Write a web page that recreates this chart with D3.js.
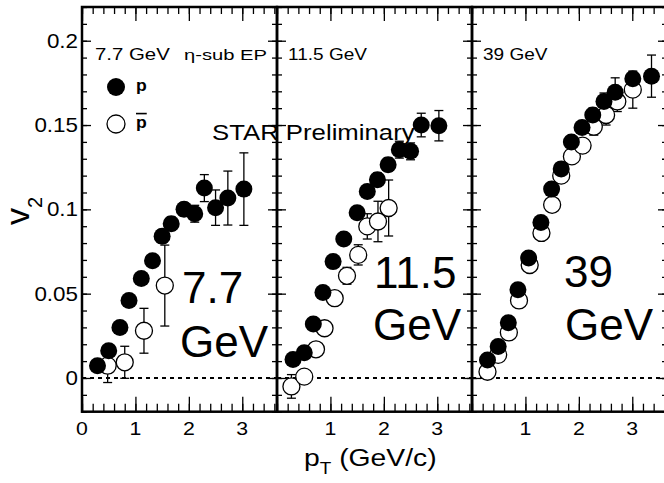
<!DOCTYPE html>
<html>
<head>
<meta charset="utf-8">
<script src="https://cdn.jsdelivr.net/npm/d3@7"></script>
<style>
body { margin: 0; background: #fff; }
svg { display: block; font-family: "Liberation Sans", Arial, sans-serif; }
</style>
</head>
<body>
<script>
// beam energies (GeV), one panel each
var energies = ["7.7", "11.5", "39"];
var topLabels = ["7.7 GeV", "11.5 GeV", "39 GeV"];

// 7.7 GeV
var pt77_p = [0.29, 0.50, 0.71, 0.88, 1.11, 1.32, 1.50, 1.67, 1.91, 2.11, 2.29, 2.50, 2.73, 3.03];
var v277_p = [0.0073, 0.0162, 0.030, 0.046, 0.059, 0.0695, 0.084, 0.0915, 0.100, 0.0974, 0.1126, 0.101, 0.1067, 0.112];
var err77_p = [0.003, 0.003, 0.003, 0.003, 0.003, 0.003, 0.004, 0.004, 0.004, 0.005, 0.008, 0.0105, 0.016, 0.0215];
var pt77_pbar = [0.48, 0.80, 1.16, 1.55];
var v277_pbar = [0.0073, 0.0093, 0.028, 0.0548];
var err77_pbar = [0.010, 0.0095, 0.0133, 0.024];

// 11.5 GeV
var pt115_p = [0.30, 0.51, 0.68, 0.86, 1.05, 1.25, 1.50, 1.69, 1.88, 2.08, 2.29, 2.50, 2.70, 3.03];
var v2115_p = [0.011, 0.015, 0.032, 0.0507, 0.069, 0.0824, 0.098, 0.1106, 0.1176, 0.1265, 0.1354, 0.1344, 0.150, 0.1496];
var err115_p = [0.002, 0.002, 0.002, 0.002, 0.003, 0.003, 0.003, 0.003, 0.004, 0.004, 0.005, 0.005, 0.007, 0.009];
var pt115_pbar = [0.27, 0.51, 0.73, 0.89, 1.08, 1.31, 1.52, 1.69, 1.89, 2.09];
var v2115_pbar = [-0.005, 0.0008, 0.017, 0.0295, 0.0473, 0.0606, 0.073, 0.0899, 0.0928, 0.1008];
var err115_pbar = [0.007, 0.004, 0.004, 0.004, 0.004, 0.005, 0.006, 0.0075, 0.012, 0.0166];

// 39 GeV
var pt39_p = [0.29, 0.49, 0.68, 0.86, 1.06, 1.29, 1.49, 1.67, 1.86, 2.06, 2.26, 2.47, 2.68, 3.01, 3.36];
var v239_p = [0.0107, 0.0186, 0.0328, 0.0523, 0.0711, 0.0922, 0.112, 0.124, 0.140, 0.1485, 0.156, 0.164, 0.1695, 0.1774, 0.179];
var err39_p = [0.001, 0.001, 0.001, 0.001, 0.002, 0.002, 0.002, 0.002, 0.003, 0.003, 0.004, 0.005, 0.0085, 0.004, 0.0125];
var pt39_pbar = [0.29, 0.49, 0.69, 0.88, 1.08, 1.30, 1.50, 1.67, 1.87, 2.07, 2.28, 2.51, 2.72, 3.01];
var v239_pbar = [0.0037, 0.0137, 0.027, 0.046, 0.067, 0.086, 0.1027, 0.120, 0.1314, 0.1378, 0.149, 0.156, 0.164, 0.171];
var err39_pbar = [0.001, 0.001, 0.001, 0.002, 0.002, 0.002, 0.003, 0.003, 0.004, 0.004, 0.005, 0.006, 0.006, 0.011];

// ticks
var xMajor = [0, 1, 2, 3];
var xMinor = d3.range(0, 3.61, 0.2);
var yMajor = [0, 0.05, 0.1, 0.15, 0.2];
var yMinor = d3.range(-0.02, 0.2201, 0.01);
var yTickLabels = ["0", "0.05", "0.1", "0.15", "0.2"];

function zip(pt, v, e) {
	return pt.map(function(d, i) { return { x: d, y: v[i], e: e[i] }; });
}

var panels = [
	{ p: zip(pt77_p, v277_p, err77_p), pbar: zip(pt77_pbar, v277_pbar, err77_pbar) },
	{ p: zip(pt115_p, v2115_p, err115_p), pbar: zip(pt115_pbar, v2115_pbar, err115_pbar) },
	{ p: zip(pt39_p, v239_p, err39_p), pbar: zip(pt39_pbar, v239_pbar, err39_pbar) }
];

var W = 664, H = 483;
var left0 = 82, panelW = 195;
var yTop = 7, yBot = 411.7;
var r = 8.5;

var svg = d3.select("body").append("svg")
	.attr("width", W)
	.attr("height", H);

var y = d3.scaleLinear().domain([-0.02, 0.22]).range([yBot, yTop]);

// text stretched sideways like the original bitmap
function label(parent, x, yy, str, size, anchor, k) {
	var g = parent.append("g").attr("transform", "translate(" + x + "," + yy + ") scale(" + k + ",1)");
	return g.append("text")
		.attr("font-size", size)
		.attr("text-anchor", anchor)
		.text(str);
}

function styleTicks(g) {
	g.select(".domain").remove();
	g.selectAll("line").attr("stroke", "#000").attr("stroke-width", 1.3);
}

panels.forEach(function(panel, i) {
	var x0 = left0 + i * panelW;
	var x = d3.scaleLinear().domain([0, 3.65]).range([x0, x0 + panelW]);
	var g = svg.append("g");

	// zero line
	g.append("line")
		.attr("x1", x(0)).attr("x2", x(3.65))
		.attr("y1", y(0)).attr("y2", y(0))
		.attr("stroke", "#000")
		.attr("stroke-width", 2)
		.attr("stroke-dasharray", "4,4");

	// ticks, all pointing inward
	g.append("g").attr("transform", "translate(0," + yBot + ")")
		.call(d3.axisBottom(x).tickValues(xMinor).tickSize(-8).tickFormat("")).call(styleTicks);
	g.append("g").attr("transform", "translate(0," + yBot + ")")
		.call(d3.axisBottom(x).tickValues(xMajor).tickSize(-15).tickFormat("")).call(styleTicks);
	g.append("g").attr("transform", "translate(0," + yTop + ")")
		.call(d3.axisTop(x).tickValues(xMinor).tickSize(-7).tickFormat("")).call(styleTicks);
	g.append("g").attr("transform", "translate(0," + yTop + ")")
		.call(d3.axisTop(x).tickValues(xMajor).tickSize(-14).tickFormat("")).call(styleTicks);
	g.append("g").attr("transform", "translate(" + x0 + ",0)")
		.call(d3.axisLeft(y).tickValues(yMinor).tickSize(-5).tickFormat("")).call(styleTicks);
	g.append("g").attr("transform", "translate(" + x0 + ",0)")
		.call(d3.axisLeft(y).tickValues(yMajor).tickSize(-9).tickFormat("")).call(styleTicks);
	g.append("g").attr("transform", "translate(" + (x0 + panelW) + ",0)")
		.call(d3.axisRight(y).tickValues(yMinor).tickSize(-5).tickFormat("")).call(styleTicks);
	g.append("g").attr("transform", "translate(" + (x0 + panelW) + ",0)")
		.call(d3.axisRight(y).tickValues(yMajor).tickSize(-9).tickFormat("")).call(styleTicks);

	// x tick labels (0 only on first panel)
	var xl = i == 0 ? xMajor : xMajor.slice(1);
	xl.forEach(function(t) {
		label(g, x(t), 435, String(t), 19, "middle", 1.12);
	});

	// frame
	g.append("rect")
		.attr("x", x0).attr("y", yTop)
		.attr("width", panelW).attr("height", yBot - yTop)
		.attr("fill", "none")
		.attr("stroke", "#000")
		.attr("stroke-width", 2.5);

	// error bars
	function errs(data) {
		var eg = g.append("g");
		data.forEach(function(d) {
			var cx = x(d.x), y1 = y(d.y + d.e), y2 = y(d.y - d.e);
			eg.append("line").attr("x1", cx).attr("x2", cx).attr("y1", y1).attr("y2", y2)
				.attr("stroke", "#000").attr("stroke-width", 1.3);
			[y1, y2].forEach(function(yy) {
				eg.append("line").attr("x1", cx - 4.5).attr("x2", cx + 4.5).attr("y1", yy).attr("y2", yy)
					.attr("stroke", "#000").attr("stroke-width", 1.3);
			});
		});
	}
	errs(panel.pbar);
	errs(panel.p);

	// pbar: open markers, drawn below the filled ones
	g.append("g").selectAll("circle")
		.data(panel.pbar)
		.enter()
		.append("circle")
		.attr("cx", function(d) { return x(d.x); })
		.attr("cy", function(d) { return y(d.y); })
		.attr("r", r)
		.attr("fill", "#fff")
		.attr("stroke", "#000")
		.attr("stroke-width", 1.3);

	g.append("g").selectAll("circle")
		.data(panel.p)
		.enter()
		.append("circle")
		.attr("cx", function(d) { return x(d.x); })
		.attr("cy", function(d) { return y(d.y); })
		.attr("r", r)
		.attr("fill", "#000");

	// energy label at top of panel
	label(g, x0 + (i == 0 ? 13 : 11), 60, topLabels[i], 17, "start", i == 0 ? 1.2 : 1.12);
});

// y tick labels
yMajor.forEach(function(t, i) {
	label(svg, 78, y(t) + 7, yTickLabels[i], 20, "end", 1.12);
});

// eta-sub EP
var eta = label(svg, 184, 60, "\u03b7-sub EP", 14, "start", 1);
eta.attr("textLength", 83).attr("lengthAdjust", "spacingAndGlyphs");

// legend
svg.append("circle").attr("cx", 116).attr("cy", 87).attr("r", 9).attr("fill", "#000");
svg.append("circle").attr("cx", 116).attr("cy", 124).attr("r", 9)
	.attr("fill", "#fff").attr("stroke", "#000").attr("stroke-width", 1.3);
label(svg, 136, 91, "p", 16, "start", 1.1).attr("font-weight", "bold");
label(svg, 136, 128, "p", 16, "start", 1.1).attr("font-weight", "bold")
	.style("text-decoration", "overline");

// STAR Preliminary
label(svg, 212, 140, "STAR Preliminary", 22, "start", 1.17);

// big energy labels
var bigPos = [[182, 303, 180, 357], [374, 288, 373, 340], [564, 287, 565, 340]];
energies.forEach(function(e, i) {
	label(svg, bigPos[i][0], bigPos[i][1], e, 44, "start", 1);
	label(svg, bigPos[i][2], bigPos[i][3], "GeV", 44, "start", 1);
});

// axis titles
var yt = svg.append("g").attr("transform", "translate(29,225) rotate(-90)")
	.append("text");
yt.append("tspan").attr("font-size", 34).text("v");
yt.append("tspan").attr("font-size", 20).attr("dy", 13).text("2");

var xt = svg.append("g").attr("transform", "translate(304,466) scale(1.18,1)")
	.append("text");
xt.append("tspan").attr("font-size", 24).text("p");
xt.append("tspan").attr("font-size", 16).attr("dy", 8).text("T");
xt.append("tspan").attr("font-size", 24).attr("dy", -8).text(" (GeV/c)");
</script>
</body>
</html>
